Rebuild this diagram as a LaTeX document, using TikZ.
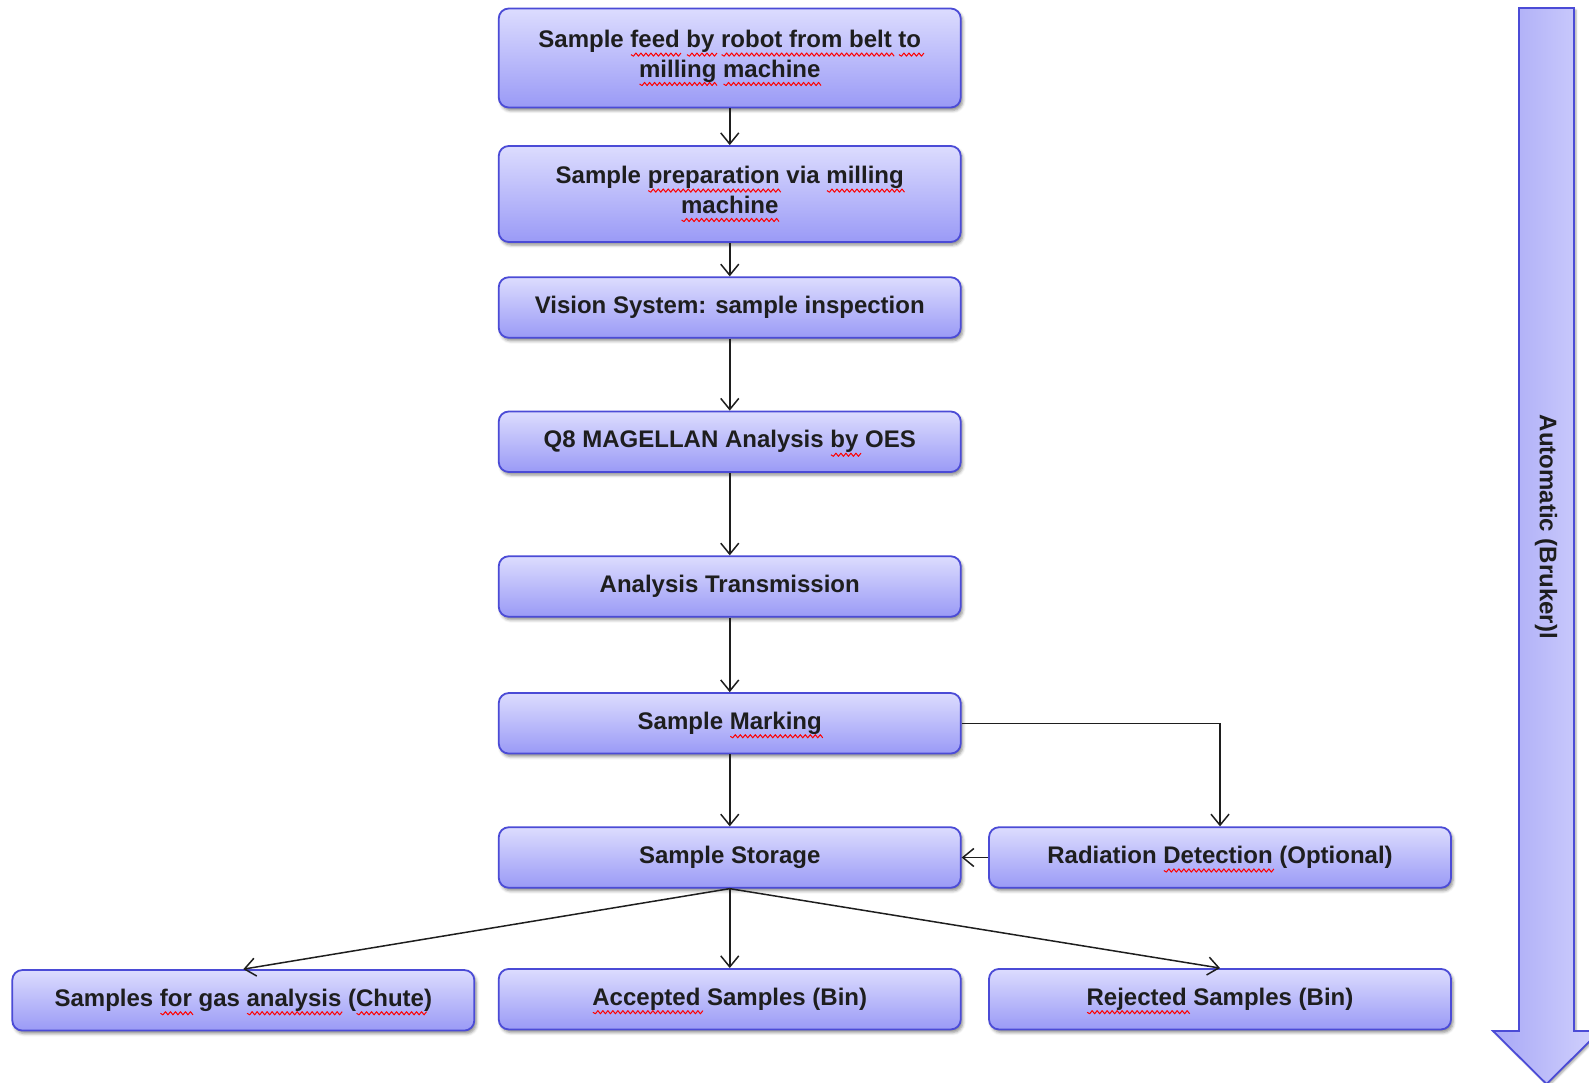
\documentclass[tikz,border=0pt]{standalone}
\usepackage{fontspec}
\setmainfont{Liberation Sans}
\usetikzlibrary{arrows.meta,shadows.blur}

\definecolor{boxtop}{HTML}{DCDCFE}
\definecolor{boxbot}{HTML}{9A9AF6}
\definecolor{boxline}{HTML}{4B4BD6}
\definecolor{arrowleft}{HTML}{A8A8F6}
\definecolor{arrowright}{HTML}{D2D2FD}
\definecolor{inkgray}{HTML}{1E1E1E}

% red wavy spell-check underline below a word
\newsavebox\spellbox
\newcount\spellk
\newdimen\spellx
\newcommand\spellwave[1]{%
  \begin{pgfpicture}%
    \pgfsetbaseline{0pt}%
    \pgfsetcornersarced{\pgfpointorigin}%
    \pgfsetdash{}{0pt}%
    \pgfsetroundjoin
    \pgfsetlinewidth{1pt}%
    \pgfsetstrokecolor{red}%
    \spellx=0pt \spellk=0
    \pgfpathmoveto{\pgfpoint{0pt}{-6.8pt}}%
    \loop
      \advance\spellx by 2.5pt
      \advance\spellk by 1
      \ifodd\spellk
        \pgfpathlineto{\pgfpoint{\spellx}{-8.4pt}}%
      \else
        \pgfpathlineto{\pgfpoint{\spellx}{-5.2pt}}%
      \fi
    \ifdim\spellx<#1\repeat
    \pgfusepath{stroke}%
  \end{pgfpicture}}
\newcommand\spell[1]{\sbox\spellbox{#1}%
  \smash{\rlap{\spellwave{\wd\spellbox}}}\usebox\spellbox}

\begin{document}
\begin{tikzpicture}[x=1pt,y=-1pt,
  stepbox/.style={draw=boxline, line width=1.8pt, rounded corners=10pt,
    top color=boxtop, bottom color=boxbot, minimum width=462pt,
    minimum height=60.5pt, inner sep=0pt, align=center, text=inkgray,
    font=\bfseries\fontsize{24}{29.4}\selectfont,
    blur shadow={shadow xshift=2pt, shadow yshift=-3pt,
      shadow blur radius=3pt, shadow opacity=45}},
  flow/.style={line width=1.5pt, draw=inkgray,
    -{Straight Barb[length=11pt,width=18pt,line width=1.5pt]}}
]
\path[use as bounding box] (0,0) rectangle (1589,1083);

% process steps
\node[stepbox, minimum height=99pt] (feed) at (729.75,58)
  {Sample \spell{feed} \spell{by} \spell{robot from belt} \spell{to}\\ \spell{milling} \spell{machine}\\[-21pt]};
\node[stepbox, minimum height=96pt] (prep) at (729.75,194)
  {Sample \spell{preparation} via \spell{milling}\\ \spell{machine}\\[-21pt]};
\node[stepbox] (vision) at (729.75,307.5) {Vision System: sample inspection};
\node[stepbox] (oes) at (729.75,441.75) {Q8 MAGELLAN Analysis \spell{by} OES};
\node[stepbox] (trans) at (729.75,586.5) {Analysis Transmission};
\node[stepbox] (mark) at (729.75,723.3) {Sample \spell{Marking}};
\node[stepbox] (store) at (729.75,857.5) {Sample Storage};
\node[stepbox] (rad) at (1220,857.5) {Radiation \spell{Detection} (Optional)};
\node[stepbox] (gas) at (243.3,1000.3) {Samples \spell{for} gas \spell{analysis} (\spell{Chute})};
\node[stepbox] (acc) at (729.75,999.2) {\spell{Accepted} Samples (Bin)};
\node[stepbox] (rej) at (1220,999.2) {\spell{Rejected} Samples (Bin)};

% connectors
\draw[flow] (feed) -- (prep);
\draw[flow] (prep) -- (vision);
\draw[flow] (vision) -- (oes);
\draw[flow] (oes) -- (trans);
\draw[flow] (trans) -- (mark);
\draw[flow] (mark) -- (store);
\draw[flow] (mark.east) -| (rad.north);
\draw[flow] (rad.west) -- (store.east);
\draw[flow] (store.south) -- (gas.north);
\draw[flow] (store.south) -- (acc.north);
\draw[flow] (store.south) -- (rej.north);

% side arrow
\begin{scope}
  \clip (0,0) rectangle (1589,1083);
  \path[draw=boxline, line width=1.8pt, left color=arrowleft, right color=arrowright,
    blur shadow={shadow xshift=2pt, shadow yshift=-2pt, shadow blur radius=2pt, shadow opacity=35}]
    (1519,8) -- (1574,8) -- (1574,1031) -- (1600,1031) -- (1546.5,1084)
    -- (1493,1031) -- (1519,1031) -- cycle;
\end{scope}
\node[rotate=-90, inner sep=0pt, text=inkgray,
  font=\bfseries\fontsize{24}{29}\selectfont] (auto) at (1546,527) {Automatic (Bruker)l};
\end{tikzpicture}
\end{document}
